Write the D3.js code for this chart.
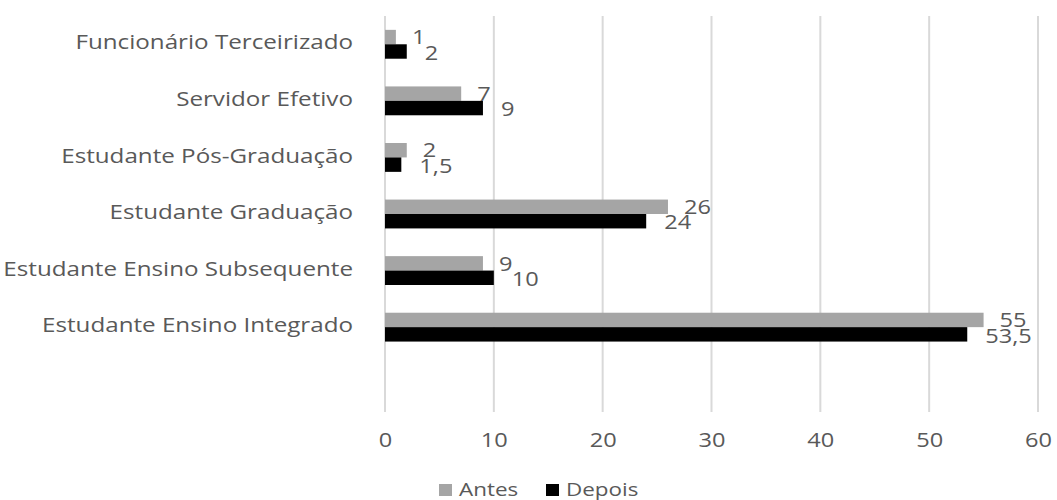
<!DOCTYPE html>
<html>
<head>
<meta charset="utf-8">
<script src="https://cdn.jsdelivr.net/npm/d3@7"></script>
<style>
  body { margin: 0; background: #fff; }
  text { font-family: "Open Sans", sans-serif; fill: #595959; }
</style>
</head>
<body>
<svg width="1057" height="500"></svg>
<script>
// data
var categories = ["Funcionário Terceirizado", "Servidor Efetivo", "Estudante Pós-Graduação",
    "Estudante Graduação", "Estudante Ensino Subsequente", "Estudante Ensino Integrado"];
var antes = [1, 7, 2, 26, 9, 55];
var depois = [2, 9, 1.5, 24, 10, 53.5];
var seriesNames = ["Antes", "Depois"];
var xTicks = [0, 10, 20, 30, 40, 50, 60];

var svg = d3.select("svg"),
    width = +svg.attr("width"),
    height = +svg.attr("height");

var color = d3.scaleOrdinal().domain(seriesNames).range(["#a5a5a5", "#000000"]);
var fmt = function(v) { return String(v).replace(".", ","); };
var SX = 1.18; // the original's text is drawn a bit wide

function place(px, py) { return "translate(" + px + "," + py + ") scale(" + SX + ",1)"; }

var x = d3.scaleLinear().domain([0, 60]).range([385, 1038]);

// one blank band is left under the last category, like the original
var y = d3.scaleBand()
    .domain(categories.concat([""]))
    .range([16, 412])
    .paddingInner(0.49)
    .paddingOuter(0.245);

var sub = d3.scaleBand().domain(seriesNames).range([0, y.bandwidth()]);

// gridlines
svg.append("g").selectAll("line")
    .data(xTicks)
    .enter().append("line")
    .attr("x1", function(d) { return x(d); })
    .attr("x2", function(d) { return x(d); })
    .attr("y1", 16)
    .attr("y2", 412)
    .attr("stroke", "#d9d9d9")
    .attr("stroke-width", 2);

// x axis labels
var xAxis = svg.append("g")
    .attr("transform", "translate(0,412)")
    .call(d3.axisBottom(x).tickValues(xTicks).tickSize(0).tickPadding(21));
xAxis.select(".domain").remove();
xAxis.selectAll("text")
    .style("font-size", "20px")
    .attr("fill", "#595959")
    .attr("transform", "scale(" + SX + ",1)");

// category labels
svg.append("g").selectAll("text")
    .data(categories)
    .enter().append("text")
    .attr("transform", function(d) { return place(353, y(d) + y.bandwidth() / 2); })
    .attr("dy", "0.25em")
    .attr("text-anchor", "end")
    .style("font-size", "20.5px")
    .text(function(d) { return d; });

var rows = categories.map(function(c, i) {
    return { cat: c, values: [
        { key: "Antes", value: antes[i] },
        { key: "Depois", value: depois[i] }
    ] };
});

var row = svg.append("g").selectAll("g")
    .data(rows)
    .enter().append("g")
    .attr("transform", function(d) { return "translate(0," + y(d.cat) + ")"; });

row.selectAll("rect")
    .data(function(d) { return d.values; })
    .enter().append("rect")
    .attr("x", x(0))
    .attr("y", function(d) { return sub(d.key); })
    .attr("width", function(d) { return x(d.value) - x(0); })
    .attr("height", sub.bandwidth())
    .attr("fill", function(d) { return color(d.key); });

row.selectAll("text")
    .data(function(d) { return d.values; })
    .enter().append("text")
    .attr("transform", function(d) {
        return place(x(d.value) + (d.key == "Antes" ? 16 : 18),
            sub(d.key) + sub.bandwidth() + (d.key == "Antes" ? 0 : 1));
    })
    .style("font-size", "20px")
    .text(function(d) { return fmt(d.value); });

// legend
var legend = svg.append("g").attr("transform", "translate(0,496)");
var lx = [439, 546];
seriesNames.forEach(function(s, i) {
    legend.append("rect")
        .attr("x", lx[i])
        .attr("y", -12)
        .attr("width", 13)
        .attr("height", 12)
        .attr("fill", color(s));
    legend.append("text")
        .attr("transform", place(lx[i] + 20, 0))
        .style("font-size", "19px")
        .text(s);
});
</script>
</body>
</html>
